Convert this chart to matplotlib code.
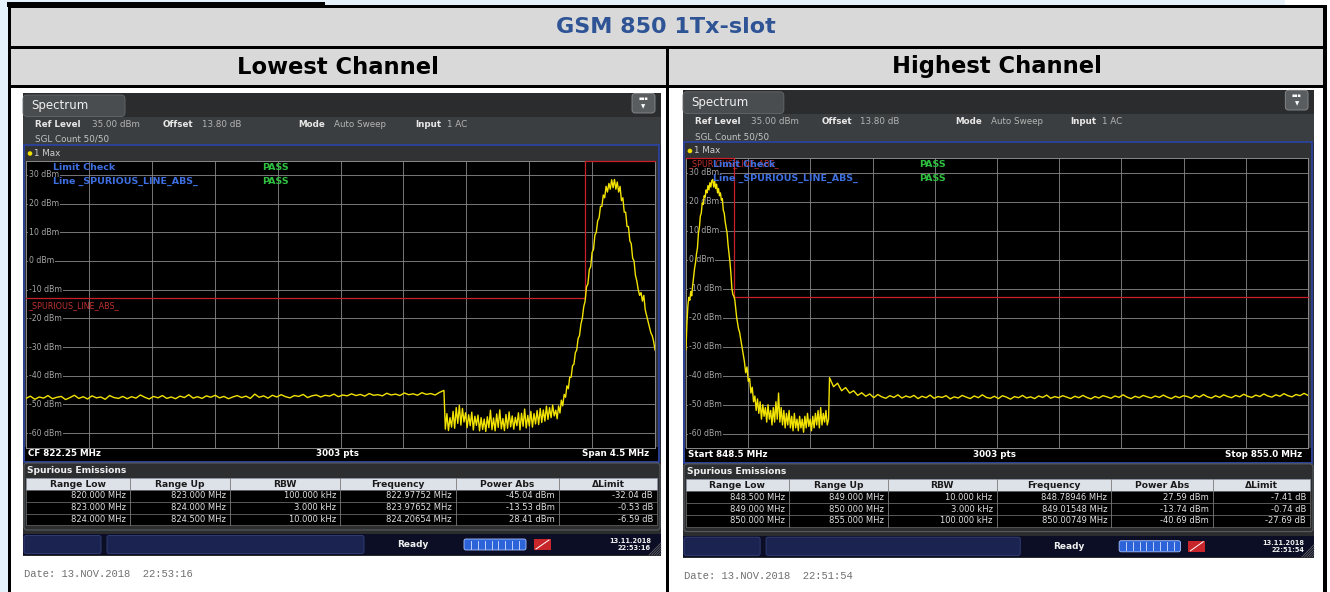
import numpy as np
import matplotlib
matplotlib.use('Agg')
import matplotlib.pyplot as plt
import matplotlib.transforms as mtransforms
from matplotlib.patches import Rectangle, FancyBboxPatch, Circle

W, H = 1330, 592

# ---- data ----
TITLE = "GSM 850 1Tx-slot"
COL_TITLES = ["Lowest Channel", "Highest Channel"]
DBM_TICKS = [30, 20, 10, 0, -10, -20, -30, -40, -50, -60]
SPUR_COLS = ["Range Low", "Range Up", "RBW", "Frequency", "Power Abs", "\u0394Limit"]

# lowest channel trace (MHz, dBm), three sweep segments
L_SPAN = (820.0, 824.5)
L_SEG_EDGES = [(820.0, 822.99), (823.0, 823.79), (823.8, 824.5)]
L_FLAT_DB = [-47.9, -47.1, -48.2, -47.4, -47.8, -46.9, -48.0, -47.5, -47.2, -48.3, -47.6, -46.8,
             -47.9, -47.3, -48.1, -47.0, -47.7, -47.4, -48.2, -46.9, -47.6, -47.9, -47.2, -48.0,
             -47.3, -47.8, -46.7, -47.5, -48.1, -47.2, -47.7, -46.9, -47.9, -47.4, -48.0, -47.1,
             -47.6, -46.6, -47.8, -47.3, -47.9, -47.0, -47.5, -46.8, -47.7, -47.2, -48.0, -47.4,
             -46.9, -47.6, -47.1, -47.9, -46.4, -47.5, -47.0, -47.8, -46.8, -47.4, -46.6, -47.3,
             -47.7, -46.9, -47.2, -46.5, -47.6, -47.0, -46.7, -47.4, -46.8, -47.1, -46.4, -47.3,
             -46.7, -47.0, -46.3, -46.9, -46.5, -47.1, -46.2, -46.8, -46.6, -47.0, -46.1, -46.7,
             -46.4, -46.9, -46.0, -46.6, -46.3, -46.8, -45.9, -46.5, -46.2, -46.7, -45.8, -45.1]
L_BAND_DB = [-58.6, -53.2, -59.1, -54.6, -57.9, -52.4, -58.3, -51.1, -56.6, -50.3, -57.2, -51.4,
             -56.1, -52.9, -58.1, -53.6, -57.4, -52.7, -58.9, -54.1, -57.3, -53.7, -59.2, -54.6,
             -58.7, -55.1, -59.4, -54.3, -58.1, -52.0, -58.8, -54.7, -59.2, -53.3, -58.0, -51.9,
             -58.5, -54.9, -59.1, -53.5, -58.3, -52.6, -57.8, -54.0, -58.6, -54.5, -57.4, -52.9,
             -58.9, -53.1, -57.6, -51.6, -58.2, -53.8, -57.5, -52.4, -57.9, -53.2, -56.8, -52.1,
             -57.0, -51.4, -56.3, -51.9, -55.8, -50.6, -55.2, -51.1, -54.6, -50.2, -54.0, -52.0]
L_MAIN_DB = [-55, -50.5, -53, -48.5, -50.5, -46.5, -47.5, -43.5, -44.5, -40.5,
             -40.5, -36.5, -36, -32, -31, -27, -26, -22, -20, -16,
             -14, -9, -8, -3, -2, 3, 4, 9, 10, 14,
             15, 19, 19, 23, 22, 26, 24, 27, 25, 28.3,
             25.5, 28.4, 25, 27.5, 24, 26, 21, 22, 17, 17,
             12, 12, 7, 6, 1, 0, -5, -7, -10, -12,
             -11, -14, -12, -17, -19, -21, -23, -25, -26, -28, -31]
L_LIMIT_F = [820.0, 824.0, 824.0, 824.5]
L_LIMIT_DB = [-13, -13, 35, 35]
L_SPUR_ROWS = [["820.000 MHz", "823.000 MHz", "100.000 kHz", "822.97752 MHz", "-45.04 dBm", "-32.04 dB"],
               ["823.000 MHz", "824.000 MHz", "3.000 kHz", "823.97652 MHz", "-13.53 dBm", "-0.53 dB"],
               ["824.000 MHz", "824.500 MHz", "10.000 kHz", "824.20654 MHz", "28.41 dBm", "-6.59 dB"]]

# highest channel trace
R_SPAN = (848.5, 855.0)
R_SEG_EDGES = [(848.5, 849.1), (849.11, 849.99), (850.0, 855.0)]
R_MAIN_DB = [-31, -22, -16, -13, -14, -11, -12.5, -9, -6, -3,
             -1, 2, 4, 9, 11, 15, 16, 19.5, 19, 22,
             21.5, 24, 23, 25.5, 24, 26.5, 25, 27.2, 27.6, 25,
             27, 24.5, 26, 23, 24.5, 22, 23, 20.5, 21, 17,
             16, 13, 11, 9, 5, 2, -1, -5, -10, -12,
             -12.6, -13.8, -17, -20, -22, -24, -25, -27, -29, -31, -33]
R_BAND_DB = [-35, -39, -37, -42, -41, -46, -44, -49, -47, -52,
             -48, -53, -49, -55, -50, -54, -51, -56, -50, -55,
             -52, -57, -51, -56, -49, -55, -46, -56, -51, -57,
             -52, -58, -53, -57, -52, -58, -54, -59, -53, -58,
             -55, -59, -54, -58, -55, -59.5, -54, -58, -53, -57.5,
             -55, -59, -54, -58, -53, -57, -52, -58, -51, -57,
             -53, -56, -52, -57, -55]
R_FLAT_DB = [-40.7, -43.8, -42.6, -45.2, -44.1, -46.0, -45.2, -46.8, -45.9, -47.1,
             -46.3, -47.6, -46.5, -47.3, -47.8, -46.9, -47.5, -46.6, -47.7, -47.0,
             -47.5, -46.8, -47.9, -47.1, -47.6, -46.7, -47.8, -47.2, -47.5, -46.9,
             -48.0, -47.3, -47.7, -46.8, -47.4, -47.9, -47.0, -47.6, -46.6, -47.5,
             -47.8, -47.1, -47.9, -46.9, -47.4, -48.1, -47.2, -47.6, -46.8, -47.7,
             -47.3, -47.9, -47.0, -47.5, -46.7, -47.8, -47.2, -47.6, -46.9, -47.4,
             -47.9, -47.1, -47.6, -46.8, -47.5, -48.0, -47.2, -47.7, -46.9, -47.3,
             -47.8, -47.0, -47.5, -46.6, -47.4, -47.9, -47.1, -47.6, -46.8, -47.3,
             -47.7, -47.0, -47.5, -46.7, -47.4, -47.9, -47.1, -47.6, -46.9, -47.2,
             -47.8, -46.8, -47.4, -46.5, -47.3, -47.7, -46.9, -47.5, -46.6, -47.2,
             -47.6, -46.8, -47.3, -46.4, -47.1, -47.5, -46.7, -47.2, -46.3, -47.0,
             -47.4, -46.6, -47.1, -46.2, -46.9, -47.3, -46.5, -46.9, -46.1, -46.8]
R_LIMIT_F = [848.5, 849.0, 849.0, 855.0]
R_LIMIT_DB = [35, 35, -13, -13]
R_SPUR_ROWS = [["848.500 MHz", "849.000 MHz", "10.000 kHz", "848.78946 MHz", "27.59 dBm", "-7.41 dB"],
               ["849.000 MHz", "850.000 MHz", "3.000 kHz", "849.01548 MHz", "-13.74 dBm", "-0.74 dB"],
               ["850.000 MHz", "855.000 MHz", "100.000 kHz", "850.00749 MHz", "-40.69 dBm", "-27.69 dB"]]

LEFT = dict(span=L_SPAN, edges=L_SEG_EDGES, segs=[L_FLAT_DB, L_BAND_DB, L_MAIN_DB],
            lim=(L_LIMIT_F, L_LIMIT_DB), rows=L_SPUR_ROWS, lab_y=-14,
            foot=("CF 822.25 MHz", "3003 pts", "Span 4.5 MHz"),
            stamp="13.11.2018\n22:53:16", date="Date: 13.NOV.2018  22:53:16")
RIGHT = dict(span=R_SPAN, edges=R_SEG_EDGES, segs=[R_MAIN_DB, R_BAND_DB, R_FLAT_DB],
             lim=(R_LIMIT_F, R_LIMIT_DB), rows=R_SPUR_ROWS, lab_y=34.6,
             foot=("Start 848.5 MHz", "3003 pts", "Stop 855.0 MHz"),
             stamp="13.11.2018\n22:51:54", date="Date: 13.NOV.2018  22:51:54")

plt.rcParams['font.family'] = ['DejaVu Sans']
fig = plt.figure(figsize=(W / 100, H / 100), dpi=100)
fig.patch.set_facecolor('white')
base = fig.add_axes([0, 0, 1, 1])
base.set_xlim(0, W)
base.set_ylim(H, 0)
base.axis('off')


def rect(x0, y0, x1, y1, fc, ec='none', lw=0.0, z=1, r=0.0):
    if r > 0:
        p = FancyBboxPatch((x0, y0), x1 - x0, y1 - y0, boxstyle=f"round,pad=0,rounding_size={r}",
                           fc=fc, ec=ec, lw=lw, zorder=z)
    else:
        p = Rectangle((x0, y0), x1 - x0, y1 - y0, fc=fc, ec=ec, lw=lw, zorder=z)
    base.add_patch(p)


# page background / table frame
rect(0, 0, 8, H, '#e6f2fb', z=0)
rect(0, 0, 1285, 5, '#e6f2fb', z=0)
rect(8, 7, 1325, 46, '#d9d9d9')
rect(8, 48, 1325, 85.5, '#d9d9d9')
rect(7, 2, 325, 7, 'black', z=5)
rect(8, 5, 1327, 7.5, 'black', z=5)
rect(8, 5, 11, H, 'black', z=5)
rect(1323, 5, 1327, H, 'black', z=5)
rect(8, 46, 1327, 48.5, 'black', z=5)
rect(8, 85, 1327, 87.5, 'black', z=5)
rect(666, 47, 668.5, H, 'black', z=5)
base.text(666, 27, TITLE, ha='center', va='center', fontsize=16, fontweight='bold', color='#2e5496')
base.text(338, 67, COL_TITLES[0], ha='center', va='center', fontsize=16.3, fontweight='bold', color='black')
base.text(997, 67, COL_TITLES[1], ha='center', va='center', fontsize=16.3, fontweight='bold', color='black')


def screen(x0, y0, sx, sy, d):
    X = lambda r: x0 + r * sx
    Y = lambda r: y0 + r * sy
    # frame and header
    rect(X(0), Y(0), X(638), Y(463), '#2a2c2e')
    rect(X(0), Y(24), X(638), Y(52), '#3b3e40', z=2)
    rect(X(0), Y(2), X(102), Y(23.5), '#4a4d50', ec='#66696c', lw=0.6, z=2, r=4)
    base.text(X(8), Y(13), "Spectrum", ha='left', va='center', fontsize=8.5, color='#f0f0f0', zorder=3)
    rect(X(609), Y(0.5), X(632), Y(20), '#5a5d60', ec='#8a8d90', lw=0.6, z=2, r=3)
    base.text(X(620.5), Y(6), "\u25aa\u25aa\u25aa", ha='center', va='center', fontsize=3.5, color='white', zorder=3)
    base.text(X(620.5), Y(13.5), "\u25bc", ha='center', va='center', fontsize=4, color='white', zorder=3)
    hdr = [("Ref Level", 12, True), ("35.00 dBm", 69, False), ("Offset", 140, True), ("13.80 dB", 179, False),
           ("Mode", 275, True), ("Auto Sweep", 311, False), ("Input", 392, True), ("1 AC", 424, False)]
    for s, rx, bold in hdr:
        base.text(X(rx), Y(31.5), s, ha='left', va='center', fontsize=6.3, zorder=3,
                  fontweight='bold' if bold else 'normal', color='#e8e8e8' if bold else '#b4b4b4')
    base.text(X(12), Y(46.5), "SGL Count 50/50", ha='left', va='center', fontsize=6.3, color='#c4c4c4', zorder=3)
    rect(X(1), Y(52), X(636), Y(369), '#303234', ec='#2a44b0', lw=1.1, z=2)
    base.add_patch(Circle((X(7), Y(60.5)), 2.3, fc='#f0e000', ec='none', zorder=3))
    base.text(X(11), Y(60.5), "1 Max", ha='left', va='center', fontsize=6.3, color='#d0d0d0', zorder=3)
    rect(X(2), Y(354), X(635), Y(368), 'black', z=3)
    base.text(X(5), Y(361), d['foot'][0], ha='left', va='center', fontsize=6.3, fontweight='bold', color='white', zorder=4)
    base.text(X(315), Y(361), d['foot'][1], ha='center', va='center', fontsize=6.3, fontweight='bold', color='white', zorder=4)
    base.text(X(626), Y(361), d['foot'][2], ha='right', va='center', fontsize=6.3, fontweight='bold', color='white', zorder=4)

    # spurious emissions table
    rect(X(1), Y(370), X(637), Y(437), '#2c2e30', ec='#5a5d60', lw=0.8, z=2, r=3)
    base.text(X(4), Y(377.5), "Spurious Emissions", ha='left', va='center', fontsize=6.6,
              fontweight='bold', color='#f0f0f0', zorder=3)
    cols = [3, 107, 207, 317, 433, 536, 634]
    rect(X(3), Y(385), X(634), Y(397), '#dde1e8', ec='#9098a8', lw=0.5, z=3)
    for i, name in enumerate(SPUR_COLS):
        base.text((X(cols[i]) + X(cols[i + 1])) / 2, Y(391.2), name, ha='center', va='center',
                  fontsize=6.6, fontweight='bold', color='#1a1a1a', zorder=4)
    rh = 11.8
    for r, row in enumerate(d['rows']):
        ya = 397 + r * rh
        rect(X(3), Y(ya), X(634), Y(ya + rh), 'black', ec='#6a6a6a', lw=0.5, z=3)
        for i, cell in enumerate(row):
            base.text(X(cols[i + 1]) - 4, Y(ya + rh / 2), cell, ha='right', va='center',
                      fontsize=6, color='#e0e0e0', zorder=4)
    for c in cols[1:-1]:
        base.plot([X(c), X(c)], [Y(385), Y(397 + 3 * rh)], color='#7a7a7a', lw=0.6, zorder=4)

    # status bar
    rect(X(0), Y(441), X(638), Y(462), '#0b0e24', z=2)
    rect(X(1), Y(442.5), X(78), Y(460.5), '#1b2350', ec='#34407a', lw=0.6, z=3, r=2)
    rect(X(84), Y(442.5), X(341), Y(460.5), '#1b2350', ec='#34407a', lw=0.6, z=3, r=2)
    base.text(X(390), Y(451.5), "Ready", ha='center', va='center', fontsize=6.5, fontweight='bold', color='#f0f0f0', zorder=4)
    rect(X(441), Y(446), X(503), Y(457), '#2d63d8', ec='#a8c4ff', lw=0.6, z=3, r=2)
    for k in range(1, 9):
        xx = X(441 + k * 62 / 9)
        base.plot([xx, xx], [Y(447.5), Y(455.5)], color='#d8e4ff', lw=0.6, zorder=4)
    rect(X(511), Y(446), X(528), Y(457), '#c8262a', z=3)
    base.plot([X(513), X(526)], [Y(456), Y(447)], color='white', lw=0.7, zorder=4)
    base.text(X(628), Y(451.5), d['stamp'], ha='right', va='center', fontsize=4.8, fontweight='bold',
              color='#f0f0f0', linespacing=1.15, zorder=4)
    for k in range(5):
        base.plot([X(626 + 2.5 * k), X(638)], [Y(462), Y(462 - (12 - 2.5 * k))], color='#707070', lw=0.5, zorder=4)
    base.text(X(1), Y(481), d['date'], ha='left', va='center', fontsize=7.6, family='Liberation Mono', color='#707070')

    # spectrum graph
    gx0, gy0, gx1, gy1 = X(3), Y(67.5), X(632), Y(354.5)
    ax = fig.add_axes([gx0 / W, 1 - gy1 / H, (gx1 - gx0) / W, (gy1 - gy0) / H])
    ax.set_facecolor('black')
    f0, f1 = d['span']
    ax.set_xlim(f0, f1)
    ax.set_ylim(-65, 35)
    ax.set_xticks([])
    ax.set_yticks([])
    for sp in ax.spines.values():
        sp.set_color('#8a8a8a')
        sp.set_linewidth(0.7)
    for k in range(1, 10):
        ax.axvline(f0 + (f1 - f0) * k / 10, color='#8a8a8a', lw=0.6, zorder=1)
    bt = mtransforms.blended_transform_factory(ax.transAxes, ax.transData)
    gw = gx1 - gx0
    for v in DBM_TICKS:
        ax.axhline(v, color='#8a8a8a', lw=0.6, zorder=1)
        ax.text(3 / gw, v, f"{v} dBm", transform=bt, ha='left', va='center', fontsize=5.6, color='#a6a6a6',
                zorder=2, bbox=dict(fc='black', ec='none', pad=0.8))
    freq = np.concatenate([np.linspace(a, b, len(s)) for (a, b), s in zip(d['edges'], d['segs'])])
    db = np.concatenate([np.array(s, float) for s in d['segs']])
    ax.plot(d['lim'][0], d['lim'][1], color='#c8202a', lw=0.9, zorder=3, clip_on=False)
    ax.plot(freq, db, color='#f2e300', lw=1.0, zorder=4)
    ax.text(2 / gw, d['lab_y'], "_SPURIOUS_LINE_ABS_", transform=bt, ha='left', va='top', fontsize=5.8,
            color='#c03030', zorder=5)

    def gtext(rx, ry, s, **kw):
        ax.text((X(rx) - gx0) / gw, (gy1 - Y(ry)) / (gy1 - gy0), s, transform=ax.transAxes,
                va='center', ha='left', zorder=6, **kw)
    gtext(30, 74, "Limit Check", fontsize=6.8, fontweight='bold', color='#3d6fe0')
    gtext(30, 88, "Line _SPURIOUS_LINE_ABS_", fontsize=6.8, fontweight='bold', color='#3d6fe0')
    gtext(239, 74, "PASS", fontsize=6.8, fontweight='bold', color='#2fc040')
    gtext(239, 88, "PASS", fontsize=6.8, fontweight='bold', color='#2fc040')


screen(23, 93, 1.0, 1.0, LEFT)
screen(683, 89.8, 0.989, 1.011, RIGHT)

fig.savefig('out.png', dpi=100, facecolor=fig.get_facecolor())
